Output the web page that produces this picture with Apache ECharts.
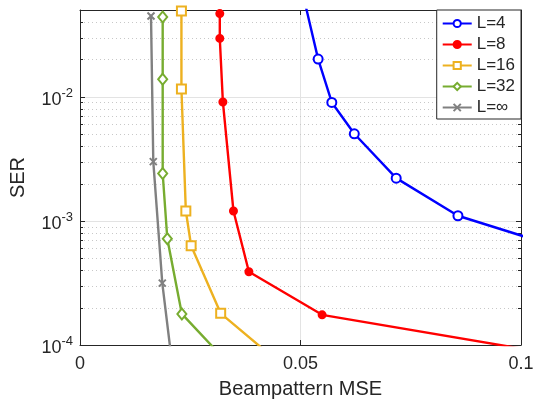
<!DOCTYPE html>
<html>
<head>
<meta charset="utf-8">
<script src="https://cdn.jsdelivr.net/npm/echarts@6/dist/echarts.min.js"></script>
<style>html,body{margin:0;padding:0;background:#fff}#c{width:537px;height:404px}</style>
</head>
<body>
<div id="c"></div>
<script>
// ---- data ----
const seriesNames = ['L=4', 'L=8', 'L=16', 'L=32', 'L=\u221E'];
const x_L4 = [0.0494, 0.0540, 0.0571, 0.0622, 0.0717, 0.0857, 0.1100];
const y_L4 = [0.1, 0.0201, 0.0090, 0.00503, 0.00221, 0.00110, 0.00059];
const x_L8 = [0.0317, 0.0317, 0.0324, 0.0348, 0.0383, 0.0549, 0.1100];
const y_L8 = [0.0468, 0.0295, 0.00908, 0.00120, 0.000389, 0.000175, 0.0000815];
const x_L16 = [0.0230, 0.0230, 0.0240, 0.0252, 0.0319, 0.0454];
const y_L16 = [0.0490, 0.01154, 0.00120, 0.000631, 0.000180, 0.000071];
const x_L32 = [0.01875, 0.01875, 0.01875, 0.0198, 0.0231, 0.0340];
const y_L32 = [0.0439, 0.01386, 0.00241, 0.000718, 0.000178, 0.0000688];
const x_Linf = [0.0161, 0.01662, 0.01866, 0.0209];
const y_Linf = [0.0447, 0.0030, 0.000315, 0.000070];
const xTicks = [0, 0.05, 0.1];
const yMin = 1e-4, yMax = 0.05;
const minorTicks = [2e-4,3e-4,4e-4,5e-4,6e-4,7e-4,8e-4,9e-4,
                    2e-3,3e-3,4e-3,5e-3,6e-3,7e-3,8e-3,9e-3,
                    2e-2,3e-2,4e-2];
const colors = ['#0000FF', '#FF0000', '#EDB120', '#77AC30', '#808080'];

const zip = (xs, ys) => xs.map((x, i) => [x, ys[i]]);
const FONT = 'Liberation Sans, Arial, Helvetica, sans-serif';
const TXT = '#262626';
const XPATH = 'path://M0,0L10,10M10,0L0,10';

const chart = echarts.init(document.getElementById('c'), null, {renderer: 'canvas'});

function mkLine(name, data, color, symbol, size) {
  return {
    name, type: 'line', data, clip: true, z: 5,
    lineStyle: {color, width: 2.4},
    symbol, symbolSize: size, showSymbol: true,
    itemStyle: {color: color, borderColor: color, borderWidth: 2},
    emphasis: {disabled: true},
    animation: false
  };
}

const yLabelFmt = v => {
  const l = Math.log10(v), e = Math.round(l);
  if (Math.abs(l - e) > 1e-6) return '';
  return '{b|10}{s|' + e + '}';
};

const option = {
  animation: false,
  backgroundColor: '#fff',
  textStyle: {fontFamily: FONT},
  grid: {left: 80, right: 16, top: 10, bottom: 56, containLabel: false},
  legend: {
    data: seriesNames,
    orient: 'vertical',
    right: 16, top: 10,
    backgroundColor: '#fff',
    borderColor: '#262626', borderWidth: 1,
    padding: [5, 6, 3, 5],
    itemWidth: 29, itemHeight: 9, itemGap: 4,
    textStyle: {fontFamily: FONT, fontSize: 17, color: TXT},
    selectedMode: false
  },
  xAxis: [{
    type: 'value', min: 0, max: 0.1, interval: 0.05, position: 'bottom',
    name: 'Beampattern MSE', nameLocation: 'middle', nameGap: 34,
    nameTextStyle: {fontFamily: FONT, fontSize: 20, color: TXT},
    axisLine: {show: true, lineStyle: {color: '#262626', width: 1}},
    axisTick: {show: true, inside: true, length: 5, lineStyle: {color: '#262626'}},
    axisLabel: {margin: 10, fontFamily: FONT, fontSize: 18, color: TXT,
      formatter: v => String(+v.toFixed(2))},
    splitLine: {show: true, lineStyle: {color: '#e3e3e3', width: 1}}
  }, {
    type: 'value', min: 0, max: 0.1, interval: 0.05, position: 'top',
    axisLine: {show: true, onZero: false, lineStyle: {color: '#262626', width: 1}},
    axisTick: {show: true, inside: true, length: 5, lineStyle: {color: '#262626'}},
    axisLabel: {show: false}, splitLine: {show: false}
  }],
  yAxis: [{
    type: 'log', logBase: 10, min: yMin, max: yMax, position: 'left',
    name: 'SER', nameLocation: 'middle', nameGap: 52, nameRotate: 90,
    nameTextStyle: {fontFamily: FONT, fontSize: 20, color: TXT},
    axisLine: {show: true, onZero: false, lineStyle: {color: '#262626', width: 1}},
    axisTick: {show: true, inside: true, length: 5, lineStyle: {color: '#262626'}},
    axisLabel: {margin: 7, fontFamily: FONT, color: TXT, formatter: yLabelFmt,
      showMaxLabel: false,
      rich: {
        b: {fontSize: 18, fontFamily: FONT, color: TXT, padding: [6, 0, 0, 0]},
        s: {fontSize: 13, fontFamily: FONT, color: TXT, verticalAlign: 'top', padding: [2, 0, 0, 0]}
      }},
    splitLine: {show: true, lineStyle: {color: '#e3e3e3', width: 1}}
  }, {
    type: 'log', logBase: 10, min: yMin, max: yMax, position: 'right',
    axisLine: {show: true, onZero: false, lineStyle: {color: '#262626', width: 1}},
    axisTick: {show: true, inside: true, length: 5, lineStyle: {color: '#262626'}},
    axisLabel: {show: false}, splitLine: {show: false}
  }],
  series: [
    {
      type: 'custom', name: 'minorGrid', silent: true, z: 1,
      xAxisIndex: 0, yAxisIndex: 0, clip: false,
      data: minorTicks.map(v => [0, v]),
      renderItem: (params, api) => {
        const cs = params.coordSys;
        const y = Math.round(api.coord([0, api.value(1)])[1]) + 0.5;
        const x0 = cs.x, x1 = cs.x + cs.width;
        return {type: 'group', children: [
          {type: 'line', shape: {x1: x0, y1: y, x2: x1, y2: y},
            style: {stroke: '#c8c8c8', lineWidth: 1, lineDash: [1, 3]}},
          {type: 'line', shape: {x1: x0, y1: y, x2: x0 + 3, y2: y},
            style: {stroke: '#262626', lineWidth: 1}},
          {type: 'line', shape: {x1: x1 - 3, y1: y, x2: x1, y2: y},
            style: {stroke: '#262626', lineWidth: 1}}
        ]};
      }
    },
    mkLine(seriesNames[0], zip(x_L4, y_L4), colors[0], 'emptyCircle', 9),
    mkLine(seriesNames[1], zip(x_L8, y_L8), colors[1], 'circle', 7),
    mkLine(seriesNames[2], zip(x_L16, y_L16), colors[2], 'emptyRect', 9),
    mkLine(seriesNames[3], zip(x_L32, y_L32), colors[3], 'emptyDiamond', [9, 11]),
    mkLine(seriesNames[4], zip(x_Linf, y_Linf), colors[4], XPATH, 7)
  ]
};
chart.setOption(option);
</script>
</body>
</html>
